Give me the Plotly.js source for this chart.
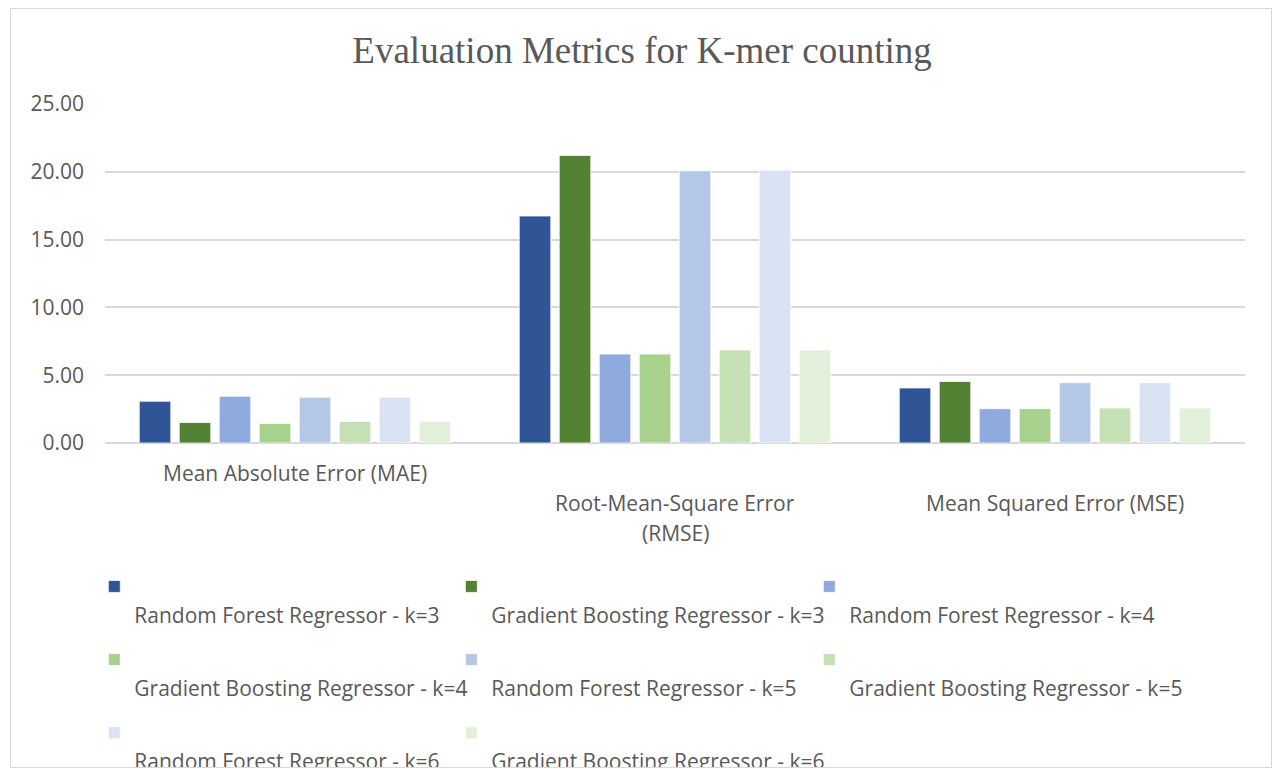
<!DOCTYPE html>
<html>
<head>
<meta charset="utf-8">
<script src="https://cdn.plot.ly/plotly-3.0.1.min.js"></script>
<style>
  html, body { margin: 0; padding: 0; background: #ffffff; }
  #wrap { position: absolute; left: 0; top: 0; width: 1274px; height: 767px; overflow: hidden; }
  #chart { width: 1274px; height: 769px; }
  #frame { position: absolute; left: 10px; top: 8px; width: 1262px; height: 760px;
           border: 1px solid #d9d9d9; box-sizing: border-box; pointer-events: none; }
</style>
</head>
<body>
<div id="wrap"><div id="chart"></div></div>
<div id="frame"></div>
<script>
// ---- data ----
const categories = ["MAE", "RMSE", "MSE"];
const categoryLabels = ["Mean Absolute Error (MAE)", "Root-Mean-Square Error<br>(RMSE)", "Mean Squared Error (MSE)"];
const seriesNames = [
  "Random Forest Regressor - k=3",
  "Gradient Boosting Regressor - k=3",
  "Random Forest Regressor - k=4",
  "Gradient Boosting Regressor - k=4",
  "Random Forest Regressor - k=5",
  "Gradient Boosting Regressor - k=5",
  "Random Forest Regressor - k=6",
  "Gradient Boosting Regressor - k=6"
];
const rfK3 = [3.08, 16.74, 4.06];
const gbK3 = [1.51, 21.21, 4.54];
const rfK4 = [3.45, 6.56, 2.53];
const gbK4 = [1.44, 6.56, 2.53];
const rfK5 = [3.38, 20.08, 4.45];
const gbK5 = [1.59, 6.86, 2.58];
const rfK6 = [3.38, 20.13, 4.45];
const gbK6 = [1.59, 6.86, 2.58];
const yTickValues = [0, 5, 10, 15, 20, 25];

const seriesValues = [rfK3, gbK3, rfK4, gbK4, rfK5, gbK5, rfK6, gbK6];
const colors = ["#2F5597", "#548235", "#8FAADC", "#A9D18E", "#B4C7E7", "#C5E0B4", "#DAE3F3", "#E2F0D9"];

const textColor = "#595959";
const fontFamily = "Open Sans, Noto Sans, sans-serif";
const baseFont = { family: fontFamily, size: 21, color: textColor };

// Excel-style legend entry: swatch on its own line, label on a line below
const legendName = (s) => "&nbsp;<br>&nbsp;<br><span style=\"font-size:21px;baseline-shift:4px\">" + s + "</span><br>&nbsp;";

// entries laid out in 3 columns (row-major, like the reference)
const legendIds = ["legend", "legend2", "legend3"];
const traces = seriesValues.map((vals, i) => ({
  type: "bar",
  name: legendName(seriesNames[i]),
  x: categories,
  y: vals,
  legend: legendIds[i % 3],
  marker: { color: colors[i], line: { color: "#ffffff", width: 0.8 } },
  hoverinfo: "x+y"
}));

// category labels drawn as annotations (Excel-like staggered wrapping)
const annotations = [];
const firstLineY = [473, 503, 503];
categoryLabels.forEach((lab, ci) => {
  lab.split("<br>").forEach((line, li) => {
    annotations.push({
      xref: "x", yref: "paper", x: categories[ci],
      y: 0, yanchor: "middle",
      yshift: -((firstLineY[ci] + li * 30) - 443),
      text: line, showarrow: false,
      font: baseFont
    });
  });
});

const legendBase = (xPos) => ({
  orientation: "v",
  x: xPos, xanchor: "left",
  y: -0.378, yanchor: "top",
  valign: "top",
  traceorder: "normal",
  font: { family: fontFamily, size: 13.5, color: textColor },
  bgcolor: "rgba(0,0,0,0)",
  borderwidth: 0
});

const layout = {
  width: 1274, height: 769,
  paper_bgcolor: "#ffffff", plot_bgcolor: "#ffffff",
  margin: { l: 105, r: 29, t: 104, b: 326, autoexpand: false },
  title: {
    text: "Evaluation Metrics for K-mer counting",
    font: { family: "Liberation Serif, Times New Roman, serif", size: 37, color: textColor },
    x: 0.504, xref: "container", xanchor: "center",
    y: 1 - 50 / 769, yref: "container", yanchor: "middle"
  },
  barmode: "group",
  bargap: 0.158,
  bargroupgap: 0.21,
  xaxis: {
    type: "category",
    showticklabels: false,
    showgrid: false, zeroline: false, showline: false, ticks: ""
  },
  yaxis: {
    range: [0, 25],
    tickvals: yTickValues,
    tickformat: ".2f",
    showgrid: true, gridcolor: "#d9d9d9", gridwidth: 1.5,
    zeroline: true, zerolinecolor: "#d9d9d9", zerolinewidth: 1.5,
    showline: false, ticks: "",
    ticklabelstandoff: 20,
    tickfont: baseFont
  },
  showlegend: true,
  legend: legendBase(-0.0094),
  legend2: legendBase(0.3038),
  legend3: legendBase(0.6178),
  annotations: annotations
};

Plotly.newPlot("chart", traces, layout, { displayModeBar: false });
</script>
</body>
</html>
